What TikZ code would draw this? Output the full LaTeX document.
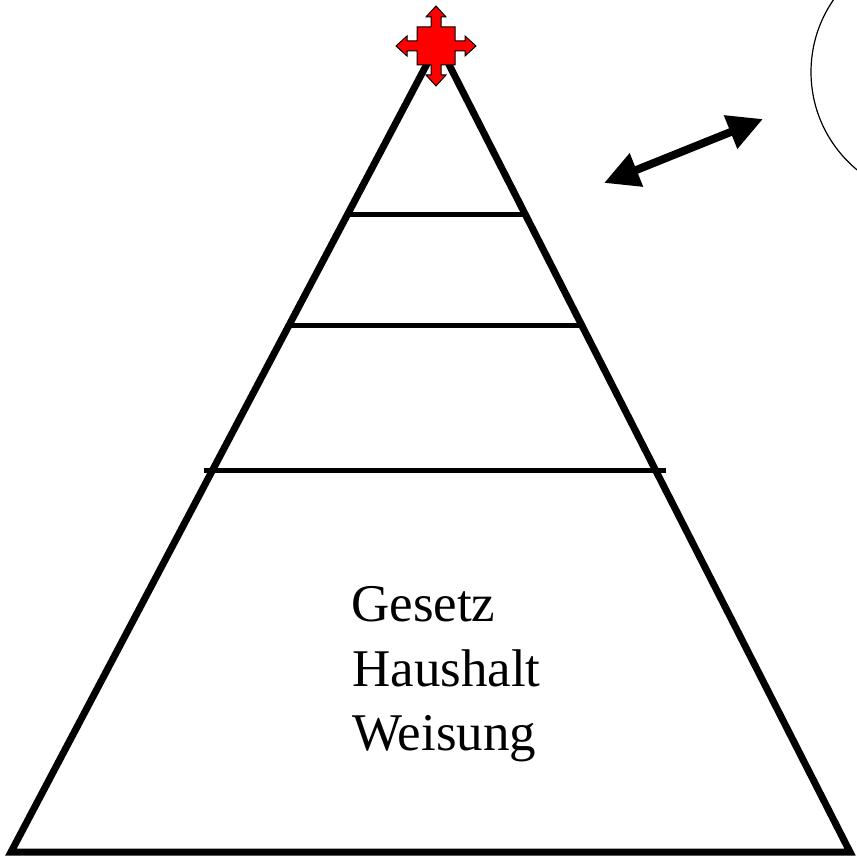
\documentclass[tikz,border=0pt]{standalone}
\usepackage{fontspec}
\setmainfont{Liberation Serif}
\usetikzlibrary{arrows.meta}
\tikzset{
  pyr/.style={line width=7pt, miter limit=20, line join=miter},
  tier/.style={line width=5pt},
  crossshape/.style={fill=red, draw=black, line width=1pt, line join=miter},
  dblarrow/.style={line width=8pt, {Triangle[length=35pt,width=34pt]}-{Triangle[length=35pt,width=34pt]}},
  ring/.style={line width=1.2pt},
  lbl/.style={anchor=base west, inner sep=0pt, font=\fontsize{53}{64}\selectfont}
}
\begin{document}
\begin{tikzpicture}[x=1pt,y=-1pt]
\useasboundingbox (0,0) rectangle (857,856);
% pyramid
\coordinate (apex) at (438,43);
\coordinate (bl) at (11,852);
\coordinate (br) at (850,852);
\draw[pyr] (bl) -- (apex) -- (br) -- cycle;
% tiers
\coordinate (t1l) at (347,214); \coordinate (t1r) at (525,214);
\coordinate (t2l) at (289,325); \coordinate (t2r) at (582,325);
\coordinate (t3l) at (204,470); \coordinate (t3r) at (666,470);
\draw[tier] (t1l) -- (t1r);
\draw[tier] (t2l) -- (t2r);
\draw[tier] (t3l) -- (t3r);
% cross at top
\begin{scope}[shift={(436,46)}]
\def\s{19}\def\w{5}\def\h{10}\def\b{29}\def\t{40}
\draw[crossshape]
 (-\w,-\s) -- (-\w,-\b) -- (-\h,-\b) -- (0,-\t) -- (\h,-\b) -- (\w,-\b) -- (\w,-\s) --
 (\s,-\s) -- (\s,-\w) -- (\b,-\w) -- (\b,-\h) -- (\t,0) -- (\b,\h) -- (\b,\w) -- (\s,\w) --
 (\s,\s) -- (\w,\s) -- (\w,\b) -- (\h,\b) -- (0,\t) -- (-\h,\b) -- (-\w,\b) -- (-\w,\s) --
 (-\s,\s) -- (-\s,\w) -- (-\b,\w) -- (-\b,\h) -- (-\t,0) -- (-\b,-\h) -- (-\b,-\w) -- (-\s,-\w) --
 (-\s,-\s) -- cycle;
\end{scope}
% double arrow
\coordinate (a1) at (604,183);
\coordinate (a2) at (763,119);
\draw[dblarrow] (a1) -- (a2);
% circle partially outside
\begin{scope}
\clip (0,0) rectangle (857,856);
\draw[ring] (938,72) circle[radius=127];
\end{scope}
% labels
\node[lbl] (g1) at (351,621) {Gesetz};
\node[lbl] (g2) at (352,686) {Haushalt};
\node[lbl] (g3) at (352,750) {Weisung};
\end{tikzpicture}
\end{document}
